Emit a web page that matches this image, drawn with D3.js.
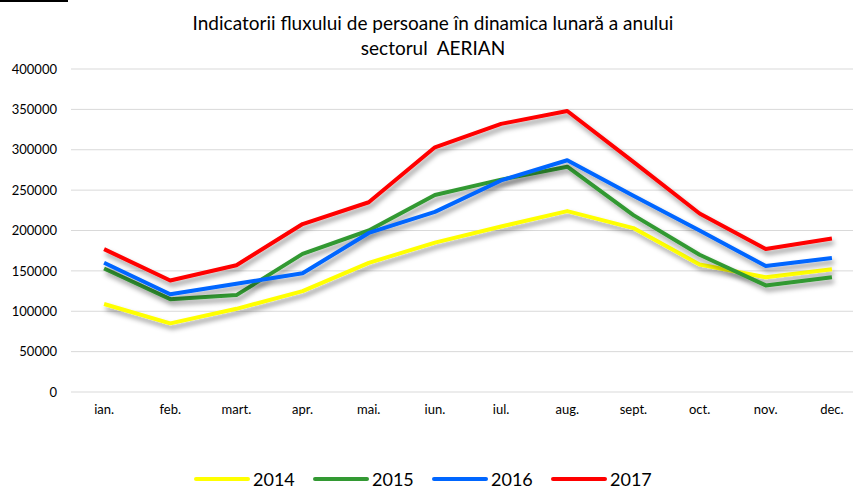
<!DOCTYPE html>
<html>
<head>
<meta charset="utf-8">
<script src="https://cdn.jsdelivr.net/npm/d3@7"></script>
<style>
  body { margin: 0; background: #fff; }
  text { font-family: Lato, "Open Sans", sans-serif; fill: #000; }
</style>
</head>
<body>
<svg></svg>
<script>
var width = 853;
var height = 489;

var months = ['ian.', 'feb.', 'mart.', 'apr.', 'mai.', 'iun.', 'iul.', 'aug.', 'sept.', 'oct.', 'nov.', 'dec.'];
var years = ['2014', '2015', '2016', '2017'];
var colors = ['#ffff00', '#339933', '#0066ff', '#ff0000'];

var v2014 = [109000, 85000, 103000, 125000, 160000, 185000, 205000, 224000, 203000, 158000, 142000, 152000];
var v2015 = [153000, 115000, 120000, 171000, 200000, 244000, 263000, 279000, 219000, 170000, 132000, 142000];
var v2016 = [160000, 121000, 134000, 147000, 197000, 223000, 262000, 287000, 243000, 200000, 156000, 166000];
var v2017 = [177000, 138000, 157000, 208000, 235000, 303000, 332000, 348000, 285000, 221000, 177000, 190000];
var series = [v2014, v2015, v2016, v2017];

var yTicks = [0, 50000, 100000, 150000, 200000, 250000, 300000, 350000, 400000];

var svg = d3.select('svg')
    .attr('width', width)
    .attr('height', height);

var defs = svg.append('defs');
var f = defs.append('filter').attr('id', 'shadow')
    .attr('x', '-10%').attr('y', '-20%').attr('width', '120%').attr('height', '160%');
f.append('feDropShadow')
    .attr('dx', 2).attr('dy', 4).attr('stdDeviation', 2.5)
    .attr('flood-color', '#000').attr('flood-opacity', 0.4);

// the little black bar top left
svg.append('rect').attr('x', 0).attr('y', 0).attr('width', 68).attr('height', 2).attr('fill', '#000');

var x = d3.scaleBand().domain(months).range([71, 865]);
var y = d3.scaleLinear().domain([0, 400000]).range([392, 69]);

// gridlines
svg.append('g').selectAll('line')
    .data(yTicks)
    .enter().append('line')
    .attr('x1', 71).attr('x2', width)
    .attr('y1', function(d){ return y(d); })
    .attr('y2', function(d){ return y(d); })
    .attr('stroke', '#d9d9d9')
    .attr('stroke-width', 1);

var yAxis = svg.append('g')
    .attr('transform', 'translate(62,0)')
    .call(d3.axisLeft(y).tickValues(yTicks).tickSize(0).tickPadding(5).tickFormat(d3.format('d')));
yAxis.select('.domain').remove();
yAxis.selectAll('text').attr('font-size', 13).style('font-family', 'Lato, "Open Sans", sans-serif');

var xAxis = svg.append('g')
    .attr('transform', 'translate(0,392)')
    .call(d3.axisBottom(x).tickSize(0).tickPadding(13));
xAxis.select('.domain').remove();
xAxis.selectAll('text').attr('font-size', 13).style('font-family', 'Lato, "Open Sans", sans-serif');

// title
svg.append('text')
    .attr('x', 433).attr('y', 30)
    .attr('text-anchor', 'middle')
    .attr('font-size', 19)
    .text('Indicatorii fluxului de persoane în dinamica lunară a anului');
svg.append('text')
    .attr('x', 433).attr('y', 55)
    .attr('text-anchor', 'middle')
    .attr('font-size', 19)
    .style('white-space', 'pre')
    .text('sectorul  AERIAN');

var line = d3.line()
    .x(function(d, i){ return x(months[i]) + x.bandwidth() / 2; })
    .y(function(d){ return y(d); });

for (var i = 0; i < series.length; i++) {
    svg.append('path')
        .datum(series[i])
        .attr('d', line)
        .attr('fill', 'none')
        .attr('stroke', colors[i])
        .attr('stroke-width', 4)
        .attr('stroke-linejoin', 'round')
        .attr('filter', 'url(#shadow)');
}

// legend
var legendX = [196, 315, 434, 553];
for (var j = 0; j < years.length; j++) {
    svg.append('line')
        .attr('x1', legendX[j]).attr('x2', legendX[j] + 52)
        .attr('y1', 479).attr('y2', 479)
        .attr('stroke', colors[j])
        .attr('stroke-width', 4)
        .attr('stroke-linecap', 'round');
    svg.append('text')
        .attr('x', legendX[j] + 57).attr('y', 486)
        .attr('font-size', 18)
        .text(years[j]);
}
</script>
</body>
</html>
